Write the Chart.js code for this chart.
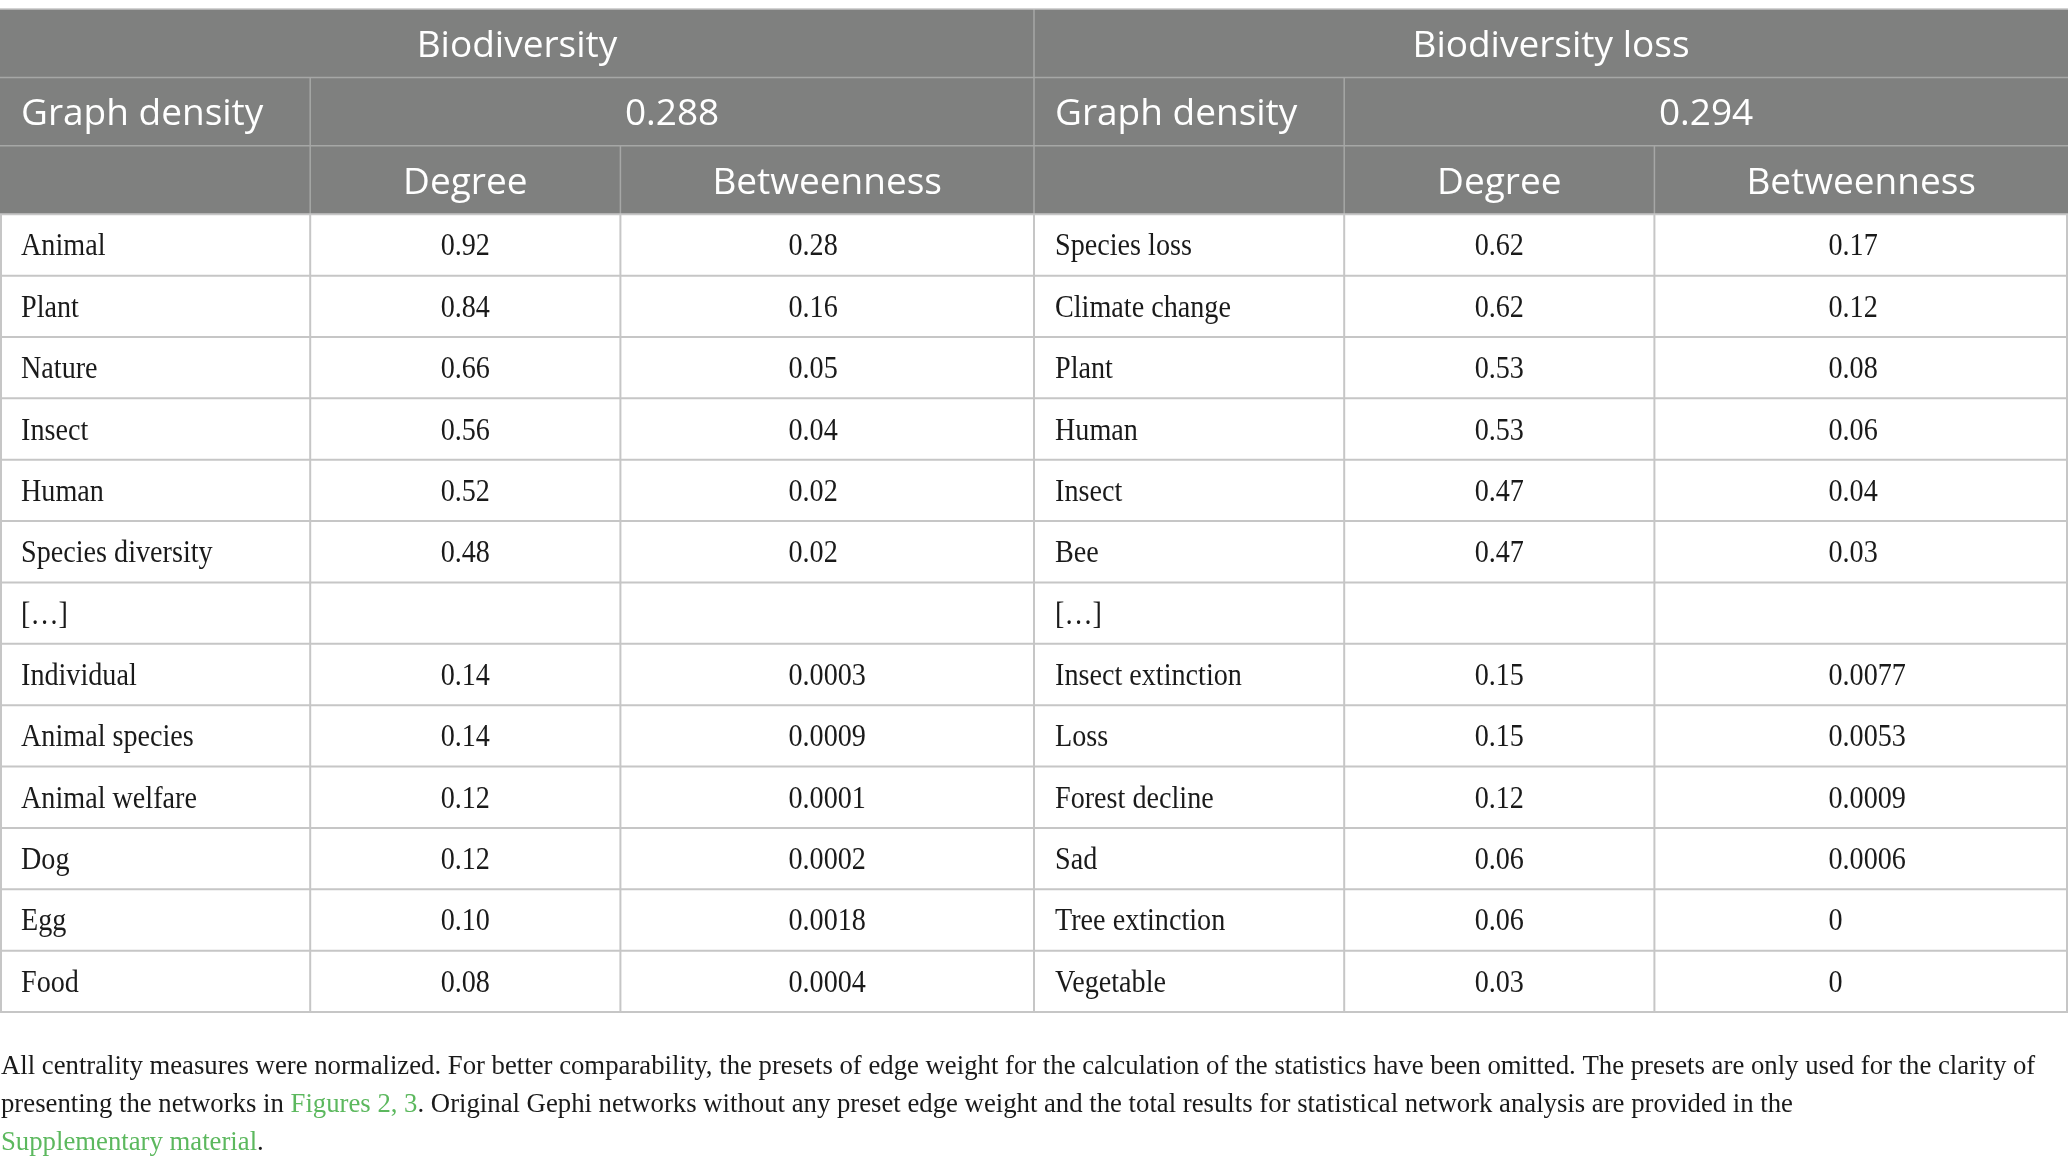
<!DOCTYPE html>
<html lang="en">
<head>
    <meta charset="UTF-8">
    <title>Centrality measures</title>
    <script src="https://cdn.jsdelivr.net/npm/chart.js"></script>
    <style>
        html, body {
            margin: 0;
            padding: 0;
            background: #ffffff;
        }
        .wrap {
            width: 2068px;
            height: 1168px;
        }
    </style>
</head>
<body>
    <div class="wrap"><canvas id="table" width="2068" height="1168"></canvas></div>

    <script>
        // header texts
        const groupTitles = ['Biodiversity', 'Biodiversity loss'];
        const densityLabel = 'Graph density';
        const densityValues = ['0.288', '0.294'];
        const measureNames = ['Degree', 'Betweenness'];

        // body rows, '' = empty cell
        const bioTerms = ['Animal', 'Plant', 'Nature', 'Insect', 'Human', 'Species diversity', '[…]',
            'Individual', 'Animal species', 'Animal welfare', 'Dog', 'Egg', 'Food'];
        const bioDegree = ['0.92', '0.84', '0.66', '0.56', '0.52', '0.48', '',
            '0.14', '0.14', '0.12', '0.12', '0.10', '0.08'];
        const bioBetweenness = ['0.28', '0.16', '0.05', '0.04', '0.02', '0.02', '',
            '0.0003', '0.0009', '0.0001', '0.0002', '0.0018', '0.0004'];

        const lossTerms = ['Species loss', 'Climate change', 'Plant', 'Human', 'Insect', 'Bee', '[…]',
            'Insect extinction', 'Loss', 'Forest decline', 'Sad', 'Tree extinction', 'Vegetable'];
        const lossDegree = ['0.62', '0.62', '0.53', '0.53', '0.47', '0.47', '',
            '0.15', '0.15', '0.12', '0.06', '0.06', '0.03'];
        const lossBetweenness = ['0.17', '0.12', '0.08', '0.06', '0.04', '0.03', '',
            '0.0077', '0.0053', '0.0009', '0.0006', '0', '0'];

        // footnote, pieces with link:true are green
        const footnoteLines = [
            [{ text: 'All centrality measures were normalized. For better comparability, the presets of edge weight for the calculation of the statistics have been omitted. The presets are only used for the clarity of' }],
            [{ text: 'presenting the networks in ' }, { text: 'Figures 2, 3', link: true },
             { text: '. Original Gephi networks without any preset edge weight and the total results for statistical network analysis are provided in the' }],
            [{ text: 'Supplementary material', link: true }, { text: '.' }]
        ];

        // layout (x in column units, y in body-row units)
        const colEdges = [0, 3, 6, 10, 13, 16, 20];
        const headRow = 1.115;
        const headTop = 3 * headRow;
        const nRows = bioTerms.length;

        const headFont = '37px "Open Sans"';
        const bodyFont = '32px "Liberation Serif"';
        const noteFont = '27px "Liberation Serif"';
        const serifSqueeze = 0.88;
        const noteSqueeze = 0.99;

        function text(ctx, str, x, y, align, squeeze) {
            ctx.save();
            ctx.translate(x, y);
            ctx.scale(squeeze || 1, 1);
            ctx.textAlign = align;
            ctx.fillText(str, 0, 0);
            ctx.restore();
        }

        const tablePlugin = {
            id: 'tablePlugin',
            afterDraw(chart) {
                const ctx = chart.ctx;
                const xs = chart.scales.x, ys = chart.scales.y;
                const px = v => xs.getPixelForValue(v);
                const py = v => ys.getPixelForValue(v);
                const rowMid = r => (py(r) + py(r + 1)) / 2;

                ctx.save();
                ctx.textBaseline = 'alphabetic';

                // header block
                ctx.fillStyle = '#7f807f';
                ctx.fillRect(px(0), py(0), px(20) - px(0), py(headTop) - py(0));

                ctx.strokeStyle = '#a6a7a6';
                ctx.lineWidth = 1.5;
                const line = (x1, y1, x2, y2) => {
                    ctx.beginPath();
                    ctx.moveTo(x1, y1);
                    ctx.lineTo(x2, y2);
                    ctx.stroke();
                };
                line(px(0), py(headRow), px(20), py(headRow));
                line(px(0), py(2 * headRow), px(20), py(2 * headRow));
                line(px(10), py(0), px(10), py(headTop));
                [3, 13].forEach(c => line(px(c), py(headRow), px(c), py(headTop)));
                [6, 16].forEach(c => line(px(c), py(2 * headRow), px(c), py(headTop)));
                ctx.strokeStyle = '#c4c4c4';
                line(px(0), py(0), px(20), py(0));

                // header text
                ctx.fillStyle = '#ffffff';
                ctx.font = headFont;
                const capHead = 13.5;
                const hMid = i => (py(i * headRow) + py((i + 1) * headRow)) / 2 + capHead;
                groupTitles.forEach((t, g) => {
                    const c0 = g * 10;
                    text(ctx, t, (px(c0) + px(c0 + 10)) / 2, hMid(0), 'center');
                    text(ctx, densityLabel, px(c0) + 21, hMid(1), 'left');
                    text(ctx, densityValues[g], (px(c0 + 3) + px(c0 + 10)) / 2, hMid(1), 'center');
                    text(ctx, measureNames[0], (px(c0 + 3) + px(c0 + 6)) / 2, hMid(2), 'center');
                    text(ctx, measureNames[1], (px(c0 + 6) + px(c0 + 10)) / 2, hMid(2), 'center');
                });

                // body grid
                ctx.strokeStyle = '#c6c6c6';
                ctx.lineWidth = 2;
                for (let r = 0; r <= nRows; r++) {
                    line(px(0), py(headTop + r), px(20), py(headTop + r));
                }
                colEdges.forEach(c => {
                    const xx = Math.min(Math.max(px(c), 1), chart.width - 1);
                    line(xx, py(headTop), xx, py(headTop + nRows));
                });

                // body text
                ctx.fillStyle = '#1a1a1a';
                ctx.font = bodyFont;
                const capBody = 10.5;
                const groups = [
                    { c0: 0, terms: bioTerms, deg: bioDegree, btw: bioBetweenness },
                    { c0: 10, terms: lossTerms, deg: lossDegree, btw: lossBetweenness }
                ];
                groups.forEach(g => {
                    const widest = Math.max(...g.btw.map(v => ctx.measureText(v).width)) * serifSqueeze;
                    const btwLeft = (px(g.c0 + 6) + px(g.c0 + 10)) / 2 - widest / 2 + (g.c0 ? 6 : 0);
                    for (let r = 0; r < nRows; r++) {
                        const yy = rowMid(headTop + r) + capBody;
                        text(ctx, g.terms[r], px(g.c0) + 21, yy, 'left', serifSqueeze);
                        if (g.deg[r]) text(ctx, g.deg[r], (px(g.c0 + 3) + px(g.c0 + 6)) / 2, yy, 'center', serifSqueeze);
                        if (g.btw[r]) text(ctx, g.btw[r], btwLeft, yy, 'left', serifSqueeze);
                    }
                });

                // footnote
                ctx.font = noteFont;
                const noteBase = py(headTop + nRows);
                footnoteLines.forEach((parts, i) => {
                    let xx = px(0) + 1;
                    const yy = noteBase + 62 + i * 38;
                    parts.forEach(p => {
                        ctx.fillStyle = p.link ? '#5cb85e' : '#1a1a1a';
                        text(ctx, p.text, xx, yy, 'left', noteSqueeze);
                        xx += ctx.measureText(p.text).width * noteSqueeze;
                    });
                });

                ctx.restore();
            }
        };

        new Chart(document.getElementById('table'), {
            type: 'scatter',
            data: { datasets: [] },
            options: {
                responsive: false,
                devicePixelRatio: 1,
                animation: false,
                events: [],
                layout: { padding: { top: 9, bottom: 156, left: 0, right: 0 } },
                scales: {
                    x: { type: 'linear', min: 0, max: 20, display: false },
                    y: { type: 'linear', min: 0, max: headTop + nRows, reverse: true, display: false }
                },
                plugins: {
                    legend: { display: false },
                    tooltip: { enabled: false }
                }
            },
            plugins: [tablePlugin]
        });
    </script>
</body>
</html>
